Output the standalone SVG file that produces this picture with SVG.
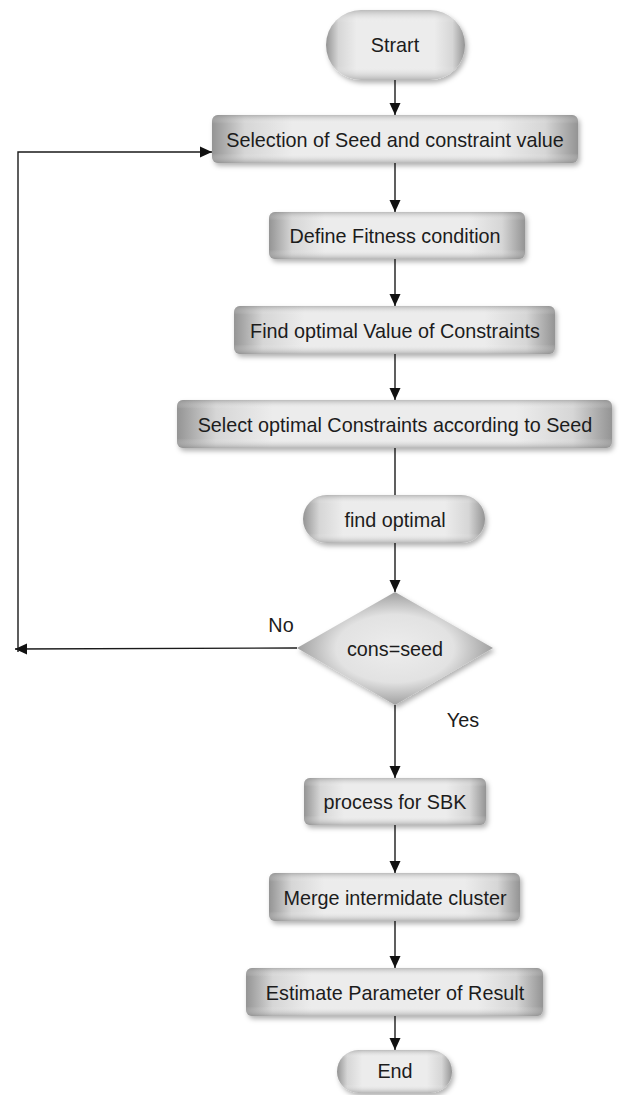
<svg xmlns="http://www.w3.org/2000/svg" width="619" height="1095" viewBox="0 0 619 1095">
<style>
.box{fill:url(#hg);filter:url(#sh)}
.ov{fill:url(#vg)}
.lbl{font-family:"Liberation Sans",Arial,sans-serif;font-size:19.8px;fill:#1c1c1c;text-anchor:middle}
.c{stroke:#1a1a1a;stroke-width:1.4;fill:none}
.a{marker-end:url(#ah)}
</style>
<defs>
<linearGradient id="hg" x1="0" y1="0" x2="1" y2="0">
<stop offset="0" stop-color="#949494"/>
<stop offset="0.09" stop-color="#d6d6d6"/>
<stop offset="0.22" stop-color="#ececec"/>
<stop offset="0.78" stop-color="#ececec"/>
<stop offset="0.91" stop-color="#d6d6d6"/>
<stop offset="1" stop-color="#949494"/>
</linearGradient>
<linearGradient id="vg" x1="0" y1="0" x2="0" y2="1">
<stop offset="0" stop-color="#8a8a8a" stop-opacity="0.5"/>
<stop offset="0.18" stop-color="#ffffff" stop-opacity="0"/>
<stop offset="0.8" stop-color="#ffffff" stop-opacity="0"/>
<stop offset="1" stop-color="#8a8a8a" stop-opacity="0.55"/>
</linearGradient>
<radialGradient id="dg" cx="0.5" cy="0.5" r="0.5">
<stop offset="0" stop-color="#ededed"/>
<stop offset="0.6" stop-color="#e2e2e2"/>
<stop offset="1" stop-color="#a0a0a0"/>
</radialGradient>
<filter id="sh" x="-10%" y="-20%" width="125%" height="160%">
<feDropShadow dx="2" dy="3" stdDeviation="2.5" flood-color="#000" flood-opacity="0.3"/>
</filter>
<marker id="ah" markerWidth="12" markerHeight="12" refX="12" refY="6" orient="auto" markerUnits="userSpaceOnUse">
<path d="M0,0.5 L12,6 L0,11.5 z" fill="#111"/>
</marker>
</defs>

<g id="connectors">
<line class="c a" x1="395" y1="80" x2="395" y2="115"/>
<line class="c a" x1="395" y1="163" x2="395" y2="212"/>
<line class="c a" x1="395" y1="259" x2="395" y2="306"/>
<line class="c a" x1="395" y1="354" x2="395" y2="400"/>
<line class="c" x1="395" y1="448" x2="395" y2="495"/>
<line class="c a" x1="395" y1="543" x2="395" y2="592"/>
<line class="c a" x1="395" y1="705" x2="395" y2="778"/>
<line class="c a" x1="395" y1="825" x2="395" y2="873"/>
<line class="c a" x1="395" y1="921" x2="395" y2="968"/>
<line class="c a" x1="395" y1="1016" x2="395" y2="1050"/>
<line class="c a" x1="297" y1="648" x2="15" y2="649"/>
<polyline class="c a" points="18,652 18,152 212,152"/>
<text class="lbl" x="281" y="632">No</text>
<text class="lbl" x="463" y="727">Yes</text>
</g>

<g id="start">
<rect class="box" x="326" y="10" width="139" height="70" rx="35"/>
<rect class="ov" x="326" y="10" width="139" height="70" rx="35"/>
<text class="lbl" x="395" y="52">Strart</text>
</g>

<g id="selection">
<rect class="box" x="212" y="115" width="366" height="48" rx="6"/>
<rect class="ov" x="212" y="115" width="366" height="48" rx="6"/>
<text class="lbl" x="395" y="146.5">Selection of Seed and constraint value</text>
</g>

<g id="define">
<rect class="box" x="269" y="212" width="256" height="47" rx="6"/>
<rect class="ov" x="269" y="212" width="256" height="47" rx="6"/>
<text class="lbl" x="395" y="242.5">Define Fitness condition</text>
</g>

<g id="findvalue">
<rect class="box" x="234" y="306" width="321" height="48" rx="6"/>
<rect class="ov" x="234" y="306" width="321" height="48" rx="6"/>
<text class="lbl" x="395" y="337.5">Find optimal Value of Constraints</text>
</g>

<g id="selectoptimal">
<rect class="box" x="177" y="400" width="435" height="48" rx="6"/>
<rect class="ov" x="177" y="400" width="435" height="48" rx="6"/>
<text class="lbl" x="395" y="431.5">Select optimal Constraints according to Seed</text>
</g>

<g id="findoptimal">
<rect class="box" x="303" y="495" width="182" height="48" rx="24"/>
<rect class="ov" x="303" y="495" width="182" height="48" rx="24"/>
<text class="lbl" x="395" y="526.5">find optimal</text>
</g>

<g id="decision">
<polygon points="395,592 493,648 395,705 297,648" fill="url(#dg)" filter="url(#sh)"/>
<text class="lbl" x="395" y="655.5">cons=seed</text>
</g>

<g id="process">
<rect class="box" x="304" y="778" width="182" height="47" rx="6"/>
<rect class="ov" x="304" y="778" width="182" height="47" rx="6"/>
<text class="lbl" x="395" y="808.5">process for SBK</text>
</g>

<g id="merge">
<rect class="box" x="269" y="873" width="251" height="48" rx="6"/>
<rect class="ov" x="269" y="873" width="251" height="48" rx="6"/>
<text class="lbl" x="395" y="904.5">Merge intermidate cluster</text>
</g>

<g id="estimate">
<rect class="box" x="246" y="968" width="297" height="48" rx="6"/>
<rect class="ov" x="246" y="968" width="297" height="48" rx="6"/>
<text class="lbl" x="395" y="999.5">Estimate Parameter of Result</text>
</g>

<g id="end">
<rect class="box" x="337" y="1050" width="115" height="43" rx="21.5"/>
<rect class="ov" x="337" y="1050" width="115" height="43" rx="21.5"/>
<text class="lbl" x="395" y="1078">End</text>
</g>
</svg>
